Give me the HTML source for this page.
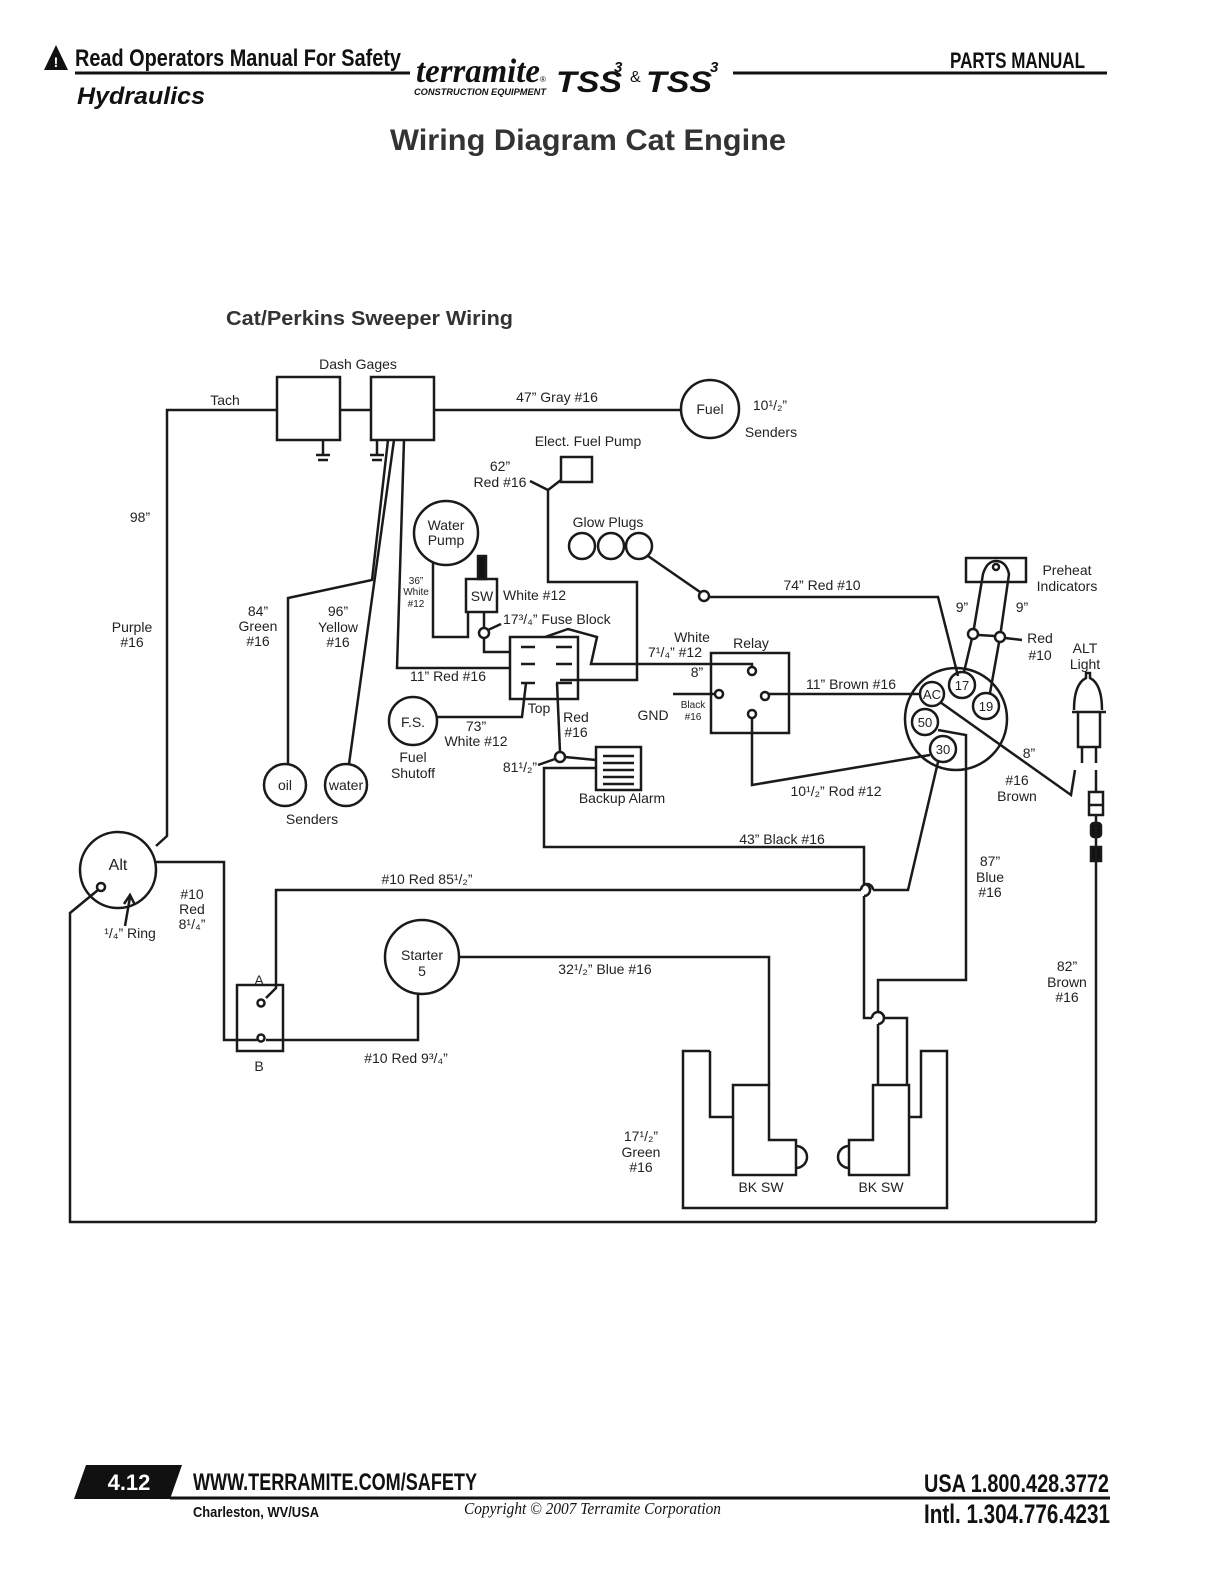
<!DOCTYPE html>
<html><head><meta charset="utf-8"><style>
html,body{margin:0;padding:0;background:#fff;}
svg{display:block;}
text{font-family:"Liberation Sans",sans-serif;fill:#222;}
</style></head><body>
<svg width="1224" height="1584" viewBox="0 0 1224 1584" xmlns="http://www.w3.org/2000/svg">
<!-- Header -->
<polygon points="44,70 56,45 68,70" fill="#111"/>
<text x="56" y="67" font-size="14" font-weight="bold" text-anchor="middle" style="fill:#fff">!</text>
<text x="75" y="66" font-size="24" font-weight="bold" textLength="326" lengthAdjust="spacingAndGlyphs" style="fill:#111">Read Operators Manual For Safety</text>
<line x1="75" y1="73" x2="410" y2="73" stroke="#111" stroke-width="3"/>
<text x="77" y="104" font-size="24" font-weight="bold" font-style="italic" textLength="128" lengthAdjust="spacingAndGlyphs" style="fill:#111">Hydraulics</text>
<text x="416" y="82" font-size="34" font-weight="bold" font-style="italic" textLength="124" lengthAdjust="spacingAndGlyphs" style="fill:#111;font-family:'Liberation Serif',serif">terramite</text>
<text x="540" y="82" font-size="8" style="fill:#111">®</text>
<text x="414" y="95" font-size="9" font-weight="bold" font-style="italic" textLength="132" lengthAdjust="spacingAndGlyphs" style="fill:#111">CONSTRUCTION EQUIPMENT</text>
<text x="556" y="92" font-size="30" font-weight="bold" font-style="italic" textLength="66" lengthAdjust="spacingAndGlyphs" style="fill:#111">TSS</text>
<text x="614" y="72" font-size="15" font-weight="bold" font-style="italic" style="fill:#111">3</text>
<text x="630" y="82" font-size="16" style="fill:#111">&amp;</text>
<text x="646" y="92" font-size="30" font-weight="bold" font-style="italic" textLength="66" lengthAdjust="spacingAndGlyphs" style="fill:#111">TSS</text>
<text x="710" y="72" font-size="15" font-weight="bold" font-style="italic" style="fill:#111">3</text>
<line x1="733" y1="73" x2="1107" y2="73" stroke="#111" stroke-width="3"/>
<text x="950" y="68" font-size="22" font-weight="bold" textLength="135" lengthAdjust="spacingAndGlyphs" style="fill:#111">PARTS MANUAL</text>
<text x="588" y="150" font-size="30" font-weight="bold" text-anchor="middle" textLength="396" lengthAdjust="spacingAndGlyphs" style="fill:#333">Wiring Diagram Cat Engine</text>
<text x="226" y="325" font-size="20" font-weight="bold" textLength="287" lengthAdjust="spacingAndGlyphs" style="fill:#333">Cat/Perkins Sweeper Wiring</text>

<g fill="none" stroke="#1a1a1a" stroke-width="2.5">
<!-- dash gages -->
<rect x="277" y="377" width="63" height="63"/>
<rect x="371" y="377" width="63" height="63"/>
<line x1="340" y1="410" x2="371" y2="410"/>
<polyline points="277,410 167,410 167,836 156,846"/>
<line x1="434" y1="410" x2="681" y2="410"/>
<circle cx="710" cy="409" r="29"/>
<!-- grounds -->
<line x1="323" y1="440" x2="323" y2="454"/><line x1="316" y1="455" x2="330" y2="455"/><line x1="318" y1="460" x2="328" y2="460"/>
<line x1="377" y1="440" x2="377" y2="454"/><line x1="370" y1="455" x2="384" y2="455"/><line x1="372" y1="460" x2="382" y2="460"/>
<!-- sender wires -->
<polyline points="388,440 372,580 288,598 288,764"/>
<line x1="394" y1="440" x2="349" y2="764"/>
<polyline points="404,440 397,668 510,668"/>
<circle cx="285" cy="785" r="21"/>
<circle cx="346" cy="785" r="21"/>
<!-- elect fuel pump -->
<rect x="561" y="457" width="31" height="25"/>
<polyline points="530,481 548,490 561,480"/>
<polyline points="548,490 548,582 637,582 637,680 560,680"/>
<!-- water pump / SW -->
<circle cx="446" cy="533" r="32"/>
<polyline points="433,562 433,637 468,637 468,612"/>
<rect x="466" y="579" width="31" height="33"/>
<rect x="478" y="556" width="8" height="23" fill="#111"/>
<line x1="484" y1="612" x2="484" y2="628"/>
<circle cx="484" cy="633" r="5"/>
<line x1="488" y1="630" x2="501" y2="624"/>
<polyline points="484,638 484,652 510,652"/>
<!-- fuse block -->
<rect x="510" y="637" width="68" height="62"/>
<line x1="521" y1="647" x2="535" y2="647"/><line x1="556" y1="647" x2="572" y2="647"/>
<line x1="521" y1="664" x2="535" y2="664"/><line x1="556" y1="664" x2="572" y2="664"/>
<line x1="521" y1="683" x2="535" y2="683"/><line x1="556" y1="683" x2="572" y2="683"/>
<polyline points="545,637 568,629 597,637 591,664 752,664 752,668"/>
<!-- glow plugs -->
<circle cx="582" cy="546" r="13"/><circle cx="611" cy="546" r="13"/><circle cx="639" cy="546" r="13"/>
<line x1="648" y1="556" x2="700" y2="592"/>
<circle cx="704" cy="596" r="5"/>
<polyline points="709,597 938,597 958,676"/>
<!-- relay -->
<rect x="711" y="653" width="78" height="80"/>
<circle cx="752" cy="671" r="4"/>
<circle cx="719" cy="694" r="4"/>
<circle cx="765" cy="696" r="4"/>
<circle cx="752" cy="714" r="4"/>
<line x1="673" y1="694" x2="715" y2="694"/>
<line x1="769" y1="694" x2="920" y2="694"/>
<polyline points="752,718 752,785 930,755"/>
<!-- ignition switch -->
<circle cx="956" cy="719" r="51"/>
<circle cx="932" cy="694" r="12"/>
<circle cx="962" cy="685" r="13"/>
<circle cx="986" cy="706" r="13"/>
<circle cx="925" cy="722" r="13"/>
<circle cx="943" cy="749" r="13"/>
<!-- preheat -->
<rect x="966" y="558" width="60" height="24"/>
<path d="M964,672 L973,634 L983,574 Q987,561 996,561 Q1006,561 1009,574 L1000,637 L990,693"/>
<circle cx="996" cy="567" r="3"/>
<circle cx="973" cy="634" r="5" fill="#fff"/>
<circle cx="1000" cy="637" r="5" fill="#fff"/>
<line x1="978" y1="635" x2="995" y2="636"/>
<line x1="1005" y1="638" x2="1022" y2="640"/>
<!-- AC brown -->
<polyline points="940,702 1071,795 1075,770"/>
<!-- ALT light -->
<path d="M1074,710 Q1074,684 1086,678 L1086,673 L1090,673 L1090,678 Q1102,684 1102,710" />
<line x1="1072" y1="712" x2="1106" y2="712"/>
<polyline points="1078,712 1078,747 1100,747 1100,712"/>
<line x1="1082" y1="747" x2="1082" y2="763"/><line x1="1096" y1="747" x2="1096" y2="763"/>
<line x1="1096" y1="770" x2="1096" y2="792"/>
<rect x="1089" y="792" width="14" height="23"/>
<line x1="1089" y1="805" x2="1103" y2="805"/>
<rect x="1091" y="823" width="10" height="14" rx="3" fill="#111"/>
<rect x="1091" y="847" width="10" height="14" fill="#111"/>
<line x1="1096" y1="815" x2="1096" y2="1222"/>
<!-- 50 / 87 blue -->
<polyline points="938,730 966,735 966,980 878,980 878,1012"/>
<path d="M878,1012 a6,6 0 0 1 0,12"/>
<line x1="878" y1="1024" x2="878" y2="1085"/>
<!-- 30 diag / #10 red 85 1/2 -->
<polyline points="938,762 908,890 873,890"/>
<path d="M873,890 a6,6 0 0 0 -12,0"/>
<polyline points="861,890 276,890 276,988 266,998"/>
<!-- backup alarm -->
<circle cx="560" cy="757" r="5"/>
<line x1="557" y1="683" x2="560" y2="752"/>
<line x1="538" y1="765" x2="555" y2="759"/>
<line x1="565" y1="757" x2="596" y2="760"/>
<rect x="596" y="747" width="45" height="43"/>
<line x1="603" y1="756" x2="634" y2="756"/><line x1="603" y1="763" x2="634" y2="763"/><line x1="603" y1="770" x2="634" y2="770"/><line x1="603" y1="777" x2="634" y2="777"/><line x1="603" y1="784" x2="634" y2="784"/>
<polyline points="596,768 544,768 544,847 864,847 864,884"/>
<path d="M864,884 a6,6 0 0 1 0,12"/>
<polyline points="864,896 864,1018 872,1018"/>
<path d="M872,1018 a6,6 0 0 1 12,0"/>
<polyline points="884,1018 907,1018 907,1085"/>
<!-- F.S. -->
<circle cx="413" cy="721" r="24"/>
<polyline points="437,717 522,717 526,683"/>
<!-- BK SW frame -->
<polyline points="710,1051 683,1051 683,1208 947,1208 947,1051 921,1051 921,1117 909,1117"/>
<polyline points="710,1051 710,1117 733,1117"/>
<polygon points="733,1085 769,1085 769,1140 796,1140 796,1175 733,1175"/>
<path d="M796,1146 a11,11 0 0 1 0,22"/>
<polygon points="909,1085 873,1085 873,1140 849,1140 849,1175 909,1175"/>
<path d="M849,1146 a11,11 0 0 0 0,22"/>
<polyline points="769,1085 769,957 459,957"/>
<circle cx="422" cy="957" r="37"/>
<!-- Alt -->
<circle cx="118" cy="870" r="38"/>
<circle cx="101" cy="887" r="4"/>
<polyline points="98,890 70,913 70,1222 1096,1222"/>
<polyline points="156,862 224,862 224,1040 257,1040"/>
<line x1="125" y1="926" x2="130" y2="897"/>
<polyline points="124,904 130,895 135,905"/>
<rect x="237" y="985" width="46" height="66"/>
<circle cx="261" cy="1003" r="3.5"/>
<circle cx="261" cy="1038" r="3.5"/>
<polyline points="266,1040 418,1040 418,994"/>
</g>

<g font-size="14" text-anchor="middle" style="fill:#333">
<text x="358" y="369">Dash Gages</text>
<text x="225" y="405">Tach</text>
<text x="557" y="402">47” Gray #16</text>
<text x="710" y="414">Fuel</text>
<text x="770" y="410">10¹/₂”</text>
<text x="771" y="437">Senders</text>
<text x="588" y="446">Elect. Fuel Pump</text>
<text x="500" y="471">62”</text>
<text x="500" y="487">Red #16</text>
<text x="140" y="522">98”</text>
<text x="608" y="527">Glow Plugs</text>
<text x="446" y="530">Water</text>
<text x="446" y="545">Pump</text>
<text x="822" y="590">74” Red #10</text>
<text x="1067" y="575">Preheat</text>
<text x="1067" y="591">Indicators</text>
<text x="962" y="612">9”</text>
<text x="1022" y="612">9”</text>
<text x="482" y="601">SW</text>
<text x="503" y="600" text-anchor="start">White #12</text>
<text x="503" y="624" text-anchor="start">17³/₄” Fuse Block</text>
<text x="132" y="632">Purple</text>
<text x="132" y="647">#16</text>
<text x="258" y="616">84”</text>
<text x="258" y="631">Green</text>
<text x="258" y="646">#16</text>
<text x="338" y="616">96”</text>
<text x="338" y="632">Yellow</text>
<text x="338" y="647">#16</text>
<text x="692" y="642">White</text>
<text x="675" y="657">7¹/₄”  #12</text>
<text x="751" y="648">Relay</text>
<text x="1040" y="643">Red</text>
<text x="1040" y="660">#10</text>
<text x="1085" y="653">ALT</text>
<text x="1085" y="669">Light</text>
<text x="697" y="677">8”</text>
<text x="448" y="681">11” Red #16</text>
<text x="851" y="689">11” Brown #16</text>
<text x="932" y="699" font-size="13">AC</text>
<text x="962" y="690" font-size="13">17</text>
<text x="986" y="711" font-size="13">19</text>
<text x="925" y="727" font-size="13">50</text>
<text x="943" y="754" font-size="13">30</text>
<text x="539" y="713">Top</text>
<text x="653" y="720">GND</text>
<text x="413" y="727">F.S.</text>
<text x="576" y="722">Red</text>
<text x="576" y="737">#16</text>
<text x="476" y="731">73”</text>
<text x="476" y="746">White #12</text>
<text x="413" y="762">Fuel</text>
<text x="413" y="778">Shutoff</text>
<text x="1029" y="758">8”</text>
<text x="520" y="772">81¹/₂”</text>
<text x="285" y="790">oil</text>
<text x="346" y="790">water</text>
<text x="1017" y="785">#16</text>
<text x="1017" y="801">Brown</text>
<text x="836" y="796">10¹/₂” Rod #12</text>
<text x="622" y="803">Backup Alarm</text>
<text x="312" y="824">Senders</text>
<text x="782" y="844">43” Black #16</text>
<text x="990" y="866">87”</text>
<text x="990" y="882">Blue</text>
<text x="990" y="897">#16</text>
<text x="118" y="870" font-size="16">Alt</text>
<text x="427" y="884">#10 Red 85¹/₂”</text>
<text x="192" y="899">#10</text>
<text x="192" y="914">Red</text>
<text x="192" y="929">8¹/₄”</text>
<text x="130" y="938">¹/₄” Ring</text>
<text x="422" y="960">Starter</text>
<text x="422" y="976">5</text>
<text x="605" y="974">32¹/₂” Blue #16</text>
<text x="1067" y="971">82”</text>
<text x="1067" y="987">Brown</text>
<text x="1067" y="1002">#16</text>
<text x="259" y="985">A</text>
<text x="406" y="1063">#10 Red 9³/₄”</text>
<text x="259" y="1071">B</text>
<text x="641" y="1141">17¹/₂”</text>
<text x="641" y="1157">Green</text>
<text x="641" y="1172">#16</text>
<text x="761" y="1192">BK SW</text>
<text x="881" y="1192">BK SW</text>
</g>
<g font-size="10" text-anchor="middle" style="fill:#333">
<text x="416" y="584">36”</text>
<text x="416" y="595">White</text>
<text x="416" y="607">#12</text>
<text x="693" y="708">Black</text>
<text x="693" y="720">#16</text>
</g>

<!-- Footer -->
<polygon points="86,1465 182,1465 170,1499 74,1499" fill="#111"/>
<text x="129" y="1490" font-size="22" font-weight="bold" text-anchor="middle" style="fill:#fff">4.12</text>
<text x="193" y="1490" font-size="24" font-weight="bold" textLength="284" lengthAdjust="spacingAndGlyphs" style="fill:#111">WWW.TERRAMITE.COM/SAFETY</text>
<line x1="170" y1="1498" x2="1110" y2="1498" stroke="#111" stroke-width="3"/>
<text x="193" y="1517" font-size="15" font-weight="bold" textLength="126" lengthAdjust="spacingAndGlyphs" style="fill:#111">Charleston, WV/USA</text>
<text x="464" y="1514" font-size="17" font-style="italic" textLength="257" lengthAdjust="spacingAndGlyphs" style="fill:#111;font-family:'Liberation Serif',serif">Copyright © 2007 Terramite Corporation</text>
<text x="924" y="1492" font-size="25" font-weight="bold" textLength="185" lengthAdjust="spacingAndGlyphs" style="fill:#111">USA 1.800.428.3772</text>
<text x="924" y="1523" font-size="27" font-weight="bold" textLength="186" lengthAdjust="spacingAndGlyphs" style="fill:#111">Intl. 1.304.776.4231</text>
</svg>
</body></html>
